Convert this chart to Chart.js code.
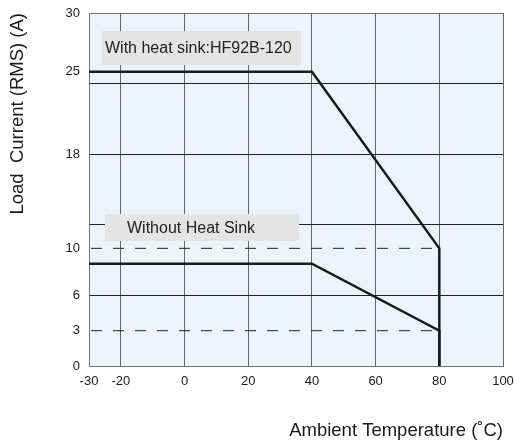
<!DOCTYPE html>
<html>
<head>
<meta charset="utf-8">
<script src="https://cdn.jsdelivr.net/npm/chart.js@4/dist/chart.umd.min.js"></script>
<style>
  html, body { margin: 0; padding: 0; background: #fff; }
  #wrap { width: 514px; height: 443px; }
</style>
</head>
<body>
<div id="wrap"><canvas id="derating"></canvas></div>
<script>
// curve points (ambient temp in C, load current in A)
const temps = [-30, 40, 80, 80];
const withSink = [25, 25, 10, 0];
const withoutSink = [8.7, 8.7, 3, 0];

// dashed reference levels
const refTemps = [-30, 80];
const refLevels = [10, 3];

const xTicks = [-30, -20, 0, 20, 40, 60, 80, 100];
const yLabels = [0, 3, 6, 10, 18, 25, 30];
const yGrid = [0, 6, 12, 18, 24, 30];

const boxLabels = ["With heat sink:HF92B-120", "Without Heat Sink"];

const toPoints = (xs, ys) => xs.map((x, i) => ({ x: x, y: ys[i] }));

const datasets = [
    {
        data: toPoints(temps, withSink),
        borderColor: "#1a1a1a",
        borderWidth: 2.5,
        pointRadius: 0,
        fill: false
    },
    {
        data: toPoints(temps, withoutSink),
        borderColor: "#1a1a1a",
        borderWidth: 2.5,
        pointRadius: 0,
        fill: false
    }
];
refLevels.forEach(level => {
    datasets.push({
        data: toPoints(refTemps, refTemps.map(() => level)),
        borderColor: "#222",
        borderWidth: 1,
        borderDash: [11, 11],
        borderDashOffset: -2,
        pointRadius: 0,
        fill: false
    });
});

// plot background + label boxes (drawn over the grid, under the curves)
const plotDecor = {
    id: "plotDecor",
    beforeDraw(chart) {
        const { ctx, chartArea: a } = chart;
        ctx.save();
        ctx.fillStyle = "#eef2fa";
        ctx.fillRect(a.left, a.top, a.right - a.left, a.bottom - a.top);
        ctx.restore();
    },
    beforeDatasetsDraw(chart) {
        const { ctx, chartArea: a } = chart;
        const boxes = [
            { x: a.left + 13, y: a.top + 18, w: 199, h: 34, pad: 3, text: boxLabels[0] },
            { x: a.left + 16, y: a.top + 201, w: 194, h: 27, pad: 22, text: boxLabels[1] }
        ];
        ctx.save();
        ctx.font = "16px 'Liberation Sans', Arial, sans-serif";
        ctx.textBaseline = "middle";
        boxes.forEach(b => {
            ctx.fillStyle = "#e4e4e4";
            ctx.fillRect(b.x, b.y, b.w, b.h);
            ctx.fillStyle = "#222";
            ctx.fillText(b.text, b.x + b.pad, b.y + b.h / 2 + 1);
        });
        ctx.restore();
    }
};

const tickFont = { family: "'Liberation Sans', Arial, sans-serif", size: 13 };
const titleFont = { family: "'Liberation Sans', Arial, sans-serif", size: 18.5 };

new Chart(document.getElementById("derating"), {
    type: "line",
    data: { datasets: datasets },
    plugins: [plotDecor],
    options: {
        responsive: true,
        maintainAspectRatio: false,
        animation: false,
        layout: { padding: { top: 13, right: 11, left: 0, bottom: 0 } },
        plugins: {
            legend: { display: false },
            tooltip: { enabled: false }
        },
        scales: {
            x: {
                type: "linear",
                min: -30,
                max: 100,
                afterBuildTicks: (axis) => {
                    axis.ticks = xTicks.map(v => ({ value: v }));
                },
                afterFit: (axis) => {
                    axis.height = 77;
                    axis.paddingRight = 0;
                    axis.paddingLeft = 0;
                },
                border: { color: "#777", width: 1 },
                grid: {
                    color: "#666",
                    lineWidth: 1,
                    drawTicks: false
                },
                ticks: {
                    color: "#1a1a1a",
                    font: tickFont,
                    padding: 8,
                    maxRotation: 0
                },
                title: {
                    display: true,
                    text: "Ambient Temperature (˚C)",
                    align: "end",
                    color: "#1a1a1a",
                    font: titleFont,
                    padding: { top: 30, bottom: 1 }
                }
            },
            y: {
                type: "linear",
                min: 0,
                max: 30,
                afterBuildTicks: (axis) => {
                    const all = yLabels.concat(yGrid).filter((v, i, arr) => arr.indexOf(v) === i);
                    all.sort((a, b) => a - b);
                    axis.ticks = all.map(v => ({ value: v }));
                },
                afterFit: (axis) => {
                    axis.width = 89;
                    axis.paddingTop = 0;
                    axis.paddingBottom = 0;
                },
                border: { color: "#777", width: 1 },
                grid: {
                    drawTicks: false,
                    lineWidth: 1,
                    color: (c) => {
                        const v = c.tick ? c.tick.value : null;
                        if (yGrid.indexOf(v) === -1) return "rgba(0,0,0,0)";
                        return v === 30 ? "#777" : "#222";
                    }
                },
                ticks: {
                    color: "#1a1a1a",
                    font: tickFont,
                    padding: 9,
                    callback: (v) => yLabels.indexOf(v) === -1 ? "" : String(v)
                },
                title: {
                    display: true,
                    text: "Load  Current (RMS) (A)",
                    align: "end",
                    color: "#1a1a1a",
                    font: titleFont,
                    padding: 7
                }
            }
        }
    }
});
</script>
</body>
</html>
